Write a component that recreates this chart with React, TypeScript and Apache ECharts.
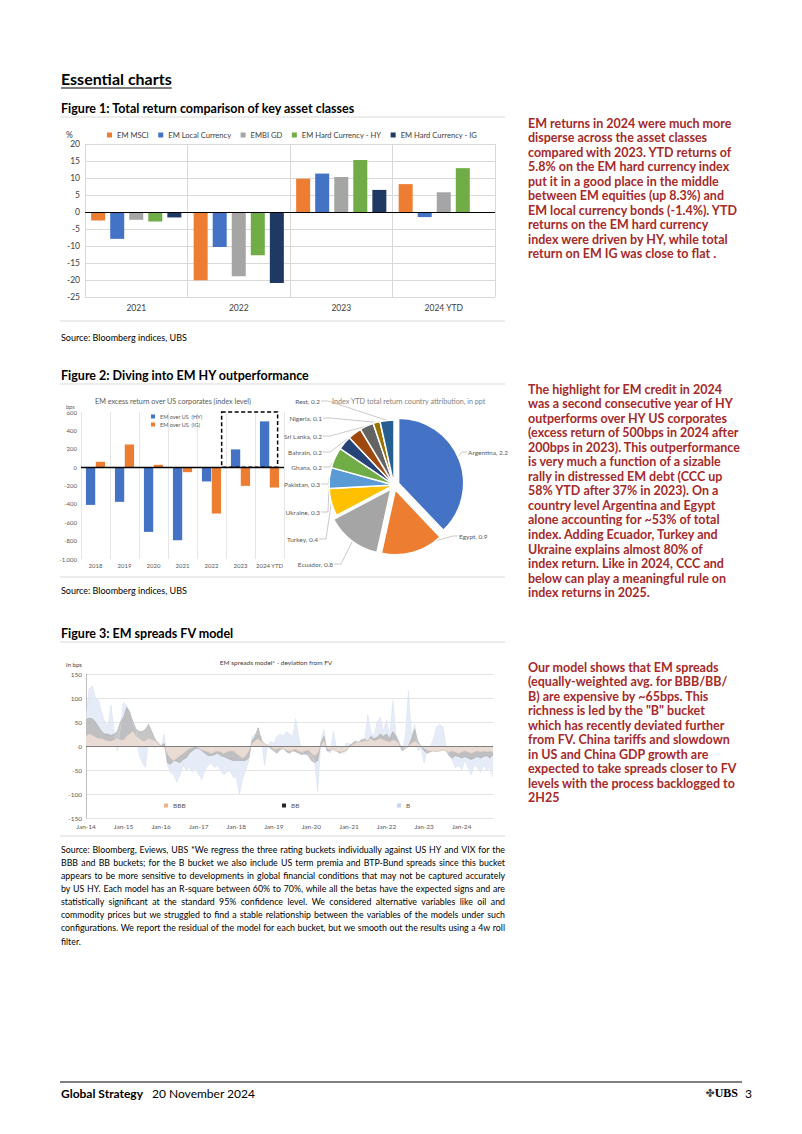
import React, { useEffect, useRef } from "react";
import * as echarts from "echarts";

const FONT = "Lato, 'Open Sans', sans-serif";
const RED = "#A52A2A";

// ---------- Figure 1 ----------
const fig1Categories = ["2021", "2022", "2023", "2024 YTD"];
const fig1Series = ["EM MSCI", "EM Local Currency", "EMBI GD", "EM Hard Currency - HY", "EM Hard Currency - IG"];
const emMsci = [-2.5, -20.1, 9.8, 8.2];
const emLocal = [-7.9, -10.3, 11.3, -1.5];
const embiGd = [-2.3, -18.9, 10.3, 5.8];
const emHy = [-2.8, -12.7, 15.3, 12.9];
const emIg = [-1.6, -20.9, 6.5, 0];
const fig1Colors = ["#ED7D31", "#4472C4", "#A5A5A5", "#70AD47", "#203864"];

// ---------- Figure 2 ----------
const fig2Categories = ["2018", "2019", "2020", "2021", "2022", "2023", "2024 YTD"];
const fig2Names = ["EM over US  (HY)", "EM over US  (IG)"];
const emOverUsHy = [-411, -378, -705, -796, -156, 193, 498];
const emOverUsIg = [58, 245, 25, -55, -505, -204, -222];

const pieNames = ["Argentina", "Egypt", "Ecuador", "Turkey", "Ukraine", "Pakistan", "Ghana", "Bahrain", "Sri Lanka", "Nigeria", "Rest"];
const pieValues = [2.2, 0.9, 0.8, 0.4, 0.3, 0.3, 0.2, 0.2, 0.2, 0.1, 0.2];
const pieColors = ["#4472C4", "#ED7D31", "#A5A5A5", "#FFC000", "#5B9BD5", "#70AD47", "#264478", "#9E480E", "#636363", "#997300", "#255E91"];

// ---------- Figure 3 ----------
const monthNames = ["Jan", "Feb", "Mar", "Apr", "May", "Jun", "Jul", "Aug", "Sep", "Oct", "Nov", "Dec"];
const fig3Years = ["14", "15", "16", "17", "18", "19", "20", "21", "22", "23", "24"];
const fig3Categories = fig3Years.flatMap((y) => monthNames.map((m) => `${m}-${y}`)).slice(0, 131);
const spreadB = [
  60, 120, 125, 100, 95, 70, 50, 40, 85, 30, -10, 40,
  90, 85, 70, 45, 30, -20, -35, -45, 15, 10, -5, 10,
  0, 25, -40, -55, -60, -75, -60, -40, -50, -45, -55, -45,
  -60, -70, -50, -40, -35, -45, -40, -50, -60, -55, -50, -65,
  -65, -100, -70, -50, -30, 20, 25, 25, 20, -40, 0, 10,
  5, 20, 25, 20, 30, 25, 20, 57, 15, -10, -20, -15,
  -20, -30, -95, 10, 35, -10, -15, 30, -5, 0, -10, 5,
  5, 0, 10, 5, 15, 10, 65, 30, 20, 50, 60, 30,
  55, 20, 95, 25, 10, -10, 20, 115, 20, 45, -10, -5,
  -35, -5, 0, 15, 40, 45, 40, 0, -20, -30, -45, -40,
  -50, -30, -45, -60, -40, -45, -55, -40, -50, -45, -65,
];
const spreadBB = [
  55, 58, 57, 50, 40, 30, 25, 25, 22, 25, 30, 50,
  60, 80, 70, 50, 35, 30, 30, 35, 45, 30, 15, 5,
  0, 5, -35, -38, -30, -32, -35, -28, -25, -15, -10, -5,
  -5, -10, -15, -20, -20, -18, -15, -20, -22, -25, -28, -30,
  -30, -30, -30, -30, -25, 10, 20, 38, 12, 5, 0, -5,
  -10, -15, -8, -5, -12, -15, -10, -12, -15, -18, -15, -20,
  -30, -35, -30, 5, 20, -10, -10, -5, -10, -15, -12, -10,
  0, 5, 10, 8, 12, 15, 10, 20, 15, 18, 25, 20,
  25, 15, 30, 20, 5, -10, -5, 0, 15, 35, 10, 0,
  -10, -15, -12, -10, -12, -10, -8, -10, -20, -25, -20, -22,
  -25, -22, -25, -28, -25, -22, -25, -22, -20, -25, -18,
];
const spreadBBB = [
  20, 25, 22, 18, 15, 15, 12, 10, 10, 12, 15, 12,
  12, 20, 25, 30, 20, 15, 10, 10, 15, 12, 10, 5,
  0, -5, -15, -25, -30, -25, -20, -15, -10, -5, -3, 0,
  -5, -8, -10, -12, -15, -12, -10, -12, -15, -12, -10, -10,
  -15, -20, -25, -20, -10, 5, 10, 15, 8, 5, 2, 0,
  -5, -5, -3, -5, -8, -10, -8, -5, -10, -12, -10, -8,
  -15, -20, -15, 0, 10, -5, -8, -10, -12, -10, -15, -12,
  -5, 0, 5, 10, 8, 10, 12, 15, 10, 12, 15, 12,
  10, 8, 12, 10, 5, 0, -5, 0, 5, 10, 5, 0,
  -5, -8, -10, -10, -12, -10, -8, -10, -12, -10, -12, -15,
  -12, -10, -12, -15, -12, -10, -12, -10, -12, -10, -12,
];

// ---------- Texts ----------
const para1 = [
  "EM returns in 2024 were much more",
  "disperse across the asset classes",
  "compared with 2023. YTD returns of",
  "5.8% on the EM hard currency index",
  "put it in a good place in the middle",
  "between EM equities (up 8.3%) and",
  "EM local currency bonds (-1.4%). YTD",
  "returns on the EM hard currency",
  "index were driven by HY, while total",
  "return on EM IG was close to flat .",
];
const para2 = [
  "The highlight for EM credit in 2024",
  "was a second consecutive year of HY",
  "outperforms over HY US corporates",
  "(excess return of 500bps in 2024 after",
  "200bps in 2023). This outperformance",
  "is very much a function of a sizable",
  "rally in distressed EM debt (CCC up",
  "58% YTD after 37% in 2023). On a",
  "country level Argentina and Egypt",
  "alone accounting for ~53% of total",
  "index. Adding Ecuador, Turkey and",
  "Ukraine explains almost 80% of",
  "index return. Like in 2024, CCC and",
  "below can play a meaningful rule on",
  "index returns in 2025.",
];
const para3 = [
  "Our model shows that EM spreads",
  "(equally-weighted avg. for BBB/BB/",
  "B) are expensive by ~65bps. This",
  "richness is led by the \"B\" bucket",
  "which has recently deviated further",
  "from FV. China tariffs and slowdown",
  "in US and China GDP growth are",
  "expected to take spreads closer to FV",
  "levels with the process backlogged to",
  "2H25",
];
const footnote = [
  "Source: Bloomberg, Eviews, UBS *We regress the three rating buckets individually against US HY and VIX for the",
  "BBB and BB buckets; for the B bucket we also include US term premia and BTP-Bund spreads since this bucket",
  "appears to be more sensitive to developments in global financial conditions that may not be captured accurately",
  "by US HY. Each model has an R-square between 60% to 70%, while all the betas have the expected signs and are",
  "statistically significant at the standard 95% confidence level. We considered alternative variables like oil and",
  "commodity prices but we struggled to find a stable relationship between the variables of the models under such",
  "configurations. We report the residual of the model for each bucket, but we smooth out the results using a 4w roll",
  "filter.",
];

// label anchor layout for the pie (x, y, side)
const pieLabelPos: [number, number, string][] = [
  [468, 452, "left"],
  [459, 536, "left"],
  [333, 564, "right"],
  [318, 539, "right"],
  [320, 512, "right"],
  [320, 484, "right"],
  [322, 467, "right"],
  [322, 452, "right"],
  [322, 436, "right"],
  [322, 418, "right"],
  [320, 401, "right"],
];

export default function App() {
  const ref = useRef<HTMLDivElement>(null);
  useEffect(() => {
    if (!ref.current) return;
    const chart = echarts.init(ref.current, null, { renderer: "svg" });
    const ctx = document.createElement("canvas").getContext("2d")!;
    const measure = (t: string, font: string) => {
      ctx.font = font;
      return ctx.measureText(t).width;
    };
    const G: any[] = [];
    const text = (x: number, y: number, t: string, s: any = {}) => {
      const align = s.align || "left";
      G.push({
        type: "text",
        x,
        y,
        silent: true,
        z: 10,
        style: {
          fontFamily: FONT,
          fontSize: 9,
          fill: "#000",
          verticalAlign: "middle",
          textVerticalAlign: "middle",
          ...s,
          text: t,
          align,
          textAlign: align,
        },
      });
    };
    const hline = (x1: number, x2: number, y: number, color: string, w = 1) =>
      G.push({ type: "line", silent: true, shape: { x1, y1: y, x2, y2: y }, style: { stroke: color, lineWidth: w } });

    // Header
    text(61, 78, "Essential charts", { fontSize: 16, fontWeight: "bold" });
    const hw = measure("Essential charts", `bold 16px Lato`);
    hline(61, 61 + hw, 88, "#000", 1.2);

    // Figure titles and frame lines
    text(61, 108, "Figure 1: Total return comparison of key asset classes", { fontSize: 12.5, fontWeight: "bold" });
    hline(60, 505, 117, "#D9D9D9");
    hline(60, 505, 321, "#D9D9D9");
    text(61, 337, "Source: Bloomberg indices, UBS", { fontSize: 9 });

    text(61, 375, "Figure 2: Diving into EM HY outperformance", { fontSize: 12.5, fontWeight: "bold" });
    hline(60, 505, 384, "#D9D9D9");
    hline(60, 505, 577, "#D9D9D9");
    text(61, 590, "Source: Bloomberg indices, UBS", { fontSize: 9 });

    text(61, 633, "Figure 3: EM spreads FV model", { fontSize: 12.5, fontWeight: "bold" });
    hline(60, 505, 642, "#D9D9D9");
    hline(60, 505, 836, "#D9D9D9");

    // Chart inner texts
    text(66, 135, "%", { fontSize: 8.5, fill: "#404040" });
    text(66, 407, "bps", { fontSize: 5.5, fill: "#595959" });
    text(95, 401, "EM excess return over US corporates (index level)", { fontSize: 7.2, fill: "#595959" });
    text(332, 401, "Index YTD total return country attribution, in ppt", { fontSize: 7.2, fill: "#7F7F7F" });
    text(276, 662, "EM spreads model* - deviation from FV", { fontSize: 6.5, fill: "#404040", align: "center" });
    text(66, 664, "In bps", { fontSize: 6, fill: "#404040" });

    // Right column paragraphs
    const LH = 14.55;
    para1.forEach((l, i) => text(528, 123 + i * LH, l, { fontSize: 12.5, fontWeight: "bold", fill: RED }));
    para2.forEach((l, i) => text(528, 389 + i * LH, l, { fontSize: 12.5, fontWeight: "bold", fill: RED }));
    para3.forEach((l, i) => text(528, 667 + i * LH, l, { fontSize: 12.5, fontWeight: "bold", fill: RED }));

    // Footnote (justified)
    const fnSize = 8.8;
    footnote.forEach((line, i) => {
      const y = 849 + i * 13.15;
      if (i === footnote.length - 1) {
        text(61, y, line, { fontSize: fnSize });
        return;
      }
      const words = line.split(" ");
      const ws = words.map((w) => measure(w, `${fnSize}px Lato`));
      const total = ws.reduce((a, b) => a + b, 0);
      const gap = (444 - total) / (words.length - 1);
      let x = 61;
      words.forEach((w, k) => {
        text(x, y, w, { fontSize: fnSize });
        x += ws[k] + gap;
      });
    });

    // Footer
    hline(60, 742, 1082, "#000", 1);
    text(61, 1093, "Global Strategy", { fontSize: 12, fontWeight: "bold" });
    text(152, 1093, "20 November 2024", { fontSize: 12 });
    text(710, 1093, "✤", { fontSize: 11, fill: "#444", fontFamily: "'DejaVu Sans'", align: "center" });
    text(738, 1093, "UBS", { fontSize: 12, fontWeight: "bold", fontFamily: "'Liberation Serif', serif", align: "right" });
    text(745, 1093, "3", { fontSize: 12 });

    const zeroLine = (color: string, width: number) => ({
      silent: true,
      symbol: "none",
      label: { show: false },
      lineStyle: { color, width, type: "solid" },
      data: [{ yAxis: 0 }],
    });

    const fig1Data = [emMsci, emLocal, embiGd, emHy, emIg];
    const legendBase = { padding: 0, icon: "rect", selectedMode: false };
    const pieData = pieNames.map((n, i) => ({ name: n, value: pieValues[i] }));

    const option: any = {
      animation: false,
      backgroundColor: "#fff",
      textStyle: { fontFamily: FONT },
      grid: [
        { left: 85, top: 144, width: 410, height: 153 },
        { left: 81, top: 412, width: 203, height: 147 },
        { left: 86, top: 674, width: 407, height: 144 },
      ],
      xAxis: [
        {
          gridIndex: 0,
          type: "category",
          data: fig1Categories,
          axisLine: { show: false },
          axisTick: { show: false },
          axisLabel: { fontSize: 8.5, color: "#404040", margin: 6 },
          splitLine: { show: true, lineStyle: { color: "#D9D9D9" } },
        },
        {
          gridIndex: 1,
          type: "category",
          data: fig2Categories,
          axisLine: { show: false },
          axisTick: { show: false },
          axisLabel: { fontSize: 6, color: "#595959", margin: 3, interval: 0 },
          splitLine: { show: true, lineStyle: { color: "#E6E6E6" } },
        },
        {
          gridIndex: 2,
          type: "category",
          data: fig3Categories,
          boundaryGap: false,
          axisLine: { show: true, lineStyle: { color: "#BFBFBF" } },
          axisTick: { show: false },
          axisLabel: { interval: 11, fontSize: 6.5, color: "#595959", margin: 5 },
          splitLine: { show: false },
        },
      ],
      yAxis: [
        {
          gridIndex: 0,
          type: "value",
          min: -25,
          max: 20,
          interval: 5,
          axisLine: { show: false },
          axisTick: { show: false },
          axisLabel: { fontSize: 8.5, color: "#404040", margin: 5 },
          splitLine: { lineStyle: { color: "#D9D9D9" } },
        },
        {
          gridIndex: 1,
          type: "value",
          min: -1000,
          max: 600,
          interval: 200,
          axisLine: { show: false },
          axisTick: { show: false },
          axisLabel: { fontSize: 6, color: "#595959", margin: 4 },
          splitLine: { show: false },
        },
        {
          gridIndex: 2,
          type: "value",
          min: -150,
          max: 150,
          interval: 50,
          axisLine: { show: true, lineStyle: { color: "#BFBFBF" } },
          axisTick: { show: false },
          axisLabel: { fontSize: 6.5, color: "#595959", margin: 4 },
          splitLine: { lineStyle: { color: "#E3E3E3" } },
        },
      ],
      legend: [
        {
          ...legendBase,
          data: fig1Series,
          left: 107,
          top: 131,
          itemWidth: 5,
          itemHeight: 5,
          itemGap: 9.5,
          textStyle: { fontSize: 7.6, color: "#404040", fontFamily: FONT },
        },
        {
          ...legendBase,
          data: fig2Names,
          orient: "vertical",
          left: 151,
          top: 413.5,
          itemWidth: 4,
          itemHeight: 4,
          itemGap: 2,
          textStyle: { fontSize: 5.5, color: "#595959", fontFamily: FONT },
        },
        {
          ...legendBase,
          data: [{ name: "BBB", itemStyle: { color: "#F4B183" } }],
          left: 164,
          top: 802,
          itemWidth: 4,
          itemHeight: 4,
          textStyle: { fontSize: 6.5, color: "#595959", fontFamily: FONT },
        },
        {
          ...legendBase,
          data: [{ name: "BB", itemStyle: { color: "#262626" } }],
          left: 282,
          top: 802,
          itemWidth: 4,
          itemHeight: 4,
          textStyle: { fontSize: 6.5, color: "#595959", fontFamily: FONT },
        },
        {
          ...legendBase,
          data: [{ name: "B", itemStyle: { color: "#C5D3EC" } }],
          left: 397,
          top: 802,
          itemWidth: 4,
          itemHeight: 4,
          textStyle: { fontSize: 6.5, color: "#595959", fontFamily: FONT },
        },
      ],
      series: [
        ...fig1Series.map((name, i) => ({
          name,
          type: "bar",
          xAxisIndex: 0,
          yAxisIndex: 0,
          data: fig1Data[i],
          itemStyle: { color: fig1Colors[i] },
          barGap: "36%",
          barCategoryGap: "12%",
          silent: true,
          markLine: i === 0 ? zeroLine("#000", 1.2) : undefined,
        })),
        {
          name: fig2Names[0],
          type: "bar",
          xAxisIndex: 1,
          yAxisIndex: 1,
          data: emOverUsHy,
          itemStyle: { color: "#4472C4" },
          barGap: "6%",
          barCategoryGap: "34%",
          silent: true,
          markLine: zeroLine("#000", 1.4),
        },
        {
          name: fig2Names[1],
          type: "bar",
          xAxisIndex: 1,
          yAxisIndex: 1,
          data: emOverUsIg,
          itemStyle: { color: "#ED7D31" },
          barGap: "6%",
          barCategoryGap: "34%",
          silent: true,
        },
        // visible (exploded) pie
        {
          name: "attribution",
          type: "pie",
          center: [394, 485],
          radius: 65,
          startAngle: 90,
          clockwise: true,
          selectedMode: "multiple",
          selectedOffset: 5,
          silent: true,
          emphasis: { disabled: true },
          itemStyle: { borderColor: "#fff", borderWidth: 1.5 },
          data: pieData.map((d, i) => ({ ...d, selected: i < 3, itemStyle: { color: pieColors[i] } })),
          label: { show: false },
          labelLine: { show: false },
        },
        // transparent twin pie carrying the labels
        {
          name: "attribution-labels",
          type: "pie",
          center: [394, 485],
          radius: 65,
          startAngle: 90,
          clockwise: true,
          silent: true,
          emphasis: { disabled: true },
          itemStyle: { color: "rgba(0,0,0,0)", borderWidth: 0 },
          data: pieData,
          label: { show: true, formatter: "{b}, {c}", fontSize: 6.5, color: "#595959", fontFamily: FONT },
          labelLine: { show: true, length: 8, length2: 8, lineStyle: { color: "#A6A6A6", width: 0.6 } },
          labelLayout: (p: any) => {
            const pos = pieLabelPos[p.dataIndex];
            if (!pos) return {};
            const [x, y, side] = pos;
            const start = p.labelLinePoints ? p.labelLinePoints[0] : [x, y];
            const pts =
              side === "right"
                ? [start, [x + 8, y], [x + 1, y]]
                : [start, [x - 6, y], [x - 1, y]];
            return { x, y, align: side, verticalAlign: "middle", labelLinePoints: pts };
          },
        },
        {
          name: "B",
          type: "line",
          xAxisIndex: 2,
          yAxisIndex: 2,
          data: spreadB,
          symbol: "none",
          silent: true,
          itemStyle: { color: "#C5D3EC" },
          lineStyle: { width: 0.5, color: "#D3DDF0" },
          areaStyle: { color: "#E2E9F6", opacity: 0.85 },
        },
        {
          name: "BB",
          type: "line",
          xAxisIndex: 2,
          yAxisIndex: 2,
          data: spreadBB,
          symbol: "none",
          silent: true,
          itemStyle: { color: "#262626" },
          lineStyle: { width: 0.5, color: "#A0A0A0" },
          areaStyle: { color: "#ABA7A4", opacity: 0.65 },
        },
        {
          name: "BBB",
          type: "line",
          xAxisIndex: 2,
          yAxisIndex: 2,
          data: spreadBBB,
          symbol: "none",
          silent: true,
          itemStyle: { color: "#F4B183" },
          lineStyle: { width: 0.5, color: "#F5D9C6" },
          areaStyle: { color: "#FBE8DB", opacity: 0.7 },
          markLine: zeroLine("#7F7F7F", 1),
        },
      ],
      graphic: { elements: G },
    };
    chart.setOption(option);

    // dashed box around 2023 / 2024 YTD positive region (fig 2)
    const band = 203 / fig2Categories.length;
    const c23 = chart.convertToPixel({ xAxisIndex: 1 }, "2023") as unknown as number;
    const c24 = chart.convertToPixel({ xAxisIndex: 1 }, "2024 YTD") as unknown as number;
    const yTop = chart.convertToPixel({ yAxisIndex: 1 }, 600) as unknown as number;
    const yZero = chart.convertToPixel({ yAxisIndex: 1 }, 0) as unknown as number;
    const x0 = c23 - band * 0.65;
    const x1 = c24 + band * 0.28;
    chart.setOption({
      graphic: {
        elements: [
          ...G,
          {
            type: "rect",
            silent: true,
            z: 20,
            shape: { x: x0, y: yTop, width: x1 - x0, height: yZero - yTop },
            style: { fill: "none", stroke: "#000", lineWidth: 1.5, lineDash: [4, 2.5] },
          },
        ],
      },
    });

    return () => chart.dispose();
  }, []);
  return (
    <div
      ref={ref}
      style={{ position: "absolute", left: 0, top: 0, width: 802, height: 1134, background: "#fff" }}
    />
  );
}
